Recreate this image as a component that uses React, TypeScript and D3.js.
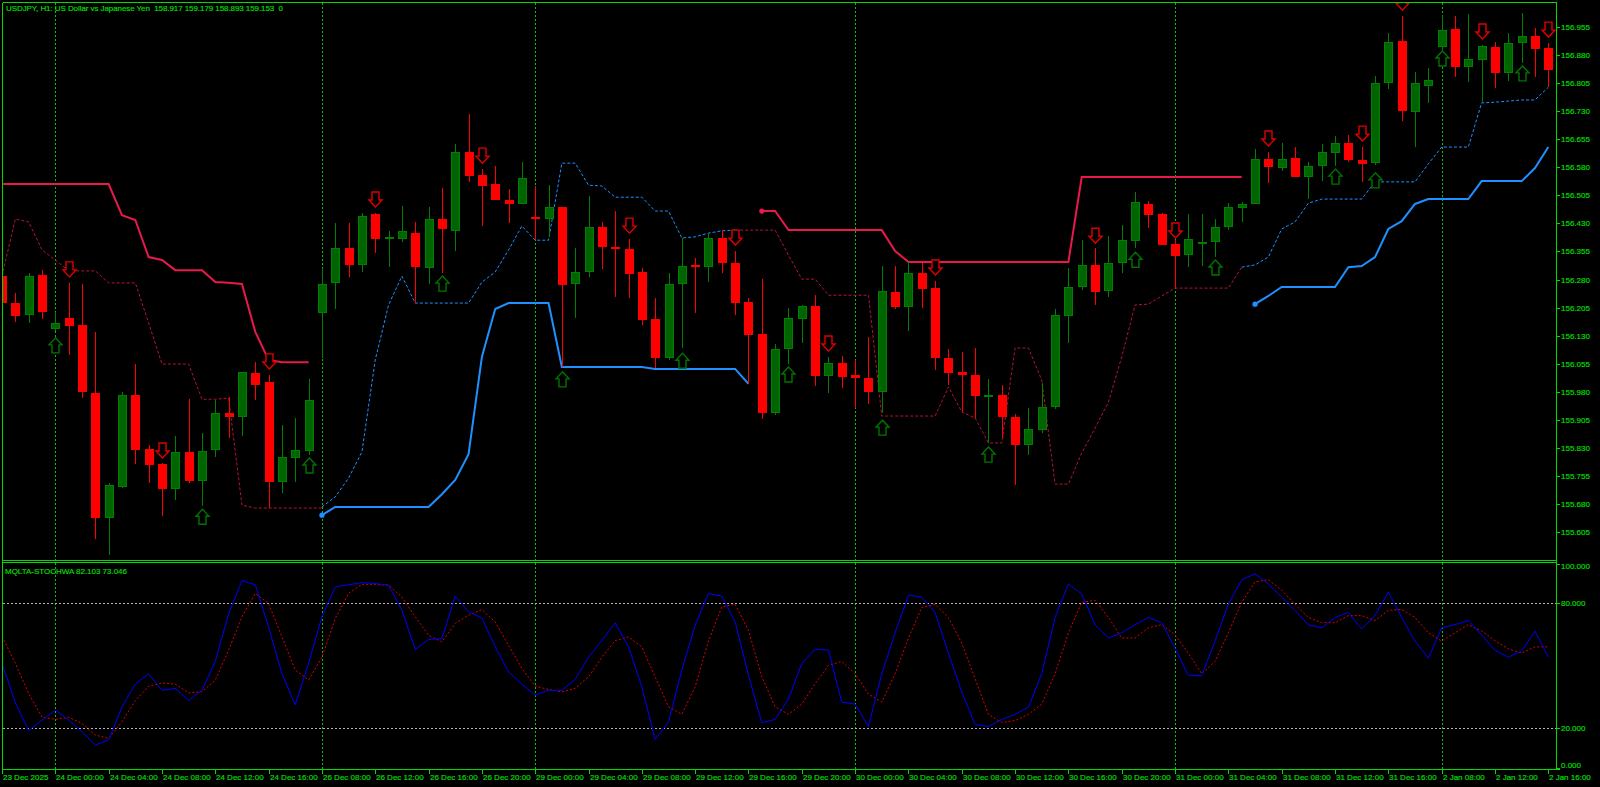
import React from 'react';
import * as d3 from 'd3';

// ---------- DATA ----------
const headerText = 'USDJPY, H1: US Dollar vs Japanese Yen  158.917 159.179 158.893 159.153  0';
const subLegend = 'MQLTA-STOCHWA 82.103 73.046';

const timeLabels: [number, string][] = [
  [0, '23 Dec 2025'], [4, '24 Dec 00:00'], [8, '24 Dec 04:00'], [12, '24 Dec 08:00'], [16, '24 Dec 12:00'],
  [20, '24 Dec 16:00'], [24, '26 Dec 08:00'], [28, '26 Dec 12:00'], [32, '26 Dec 16:00'], [36, '26 Dec 20:00'],
  [40, '29 Dec 00:00'], [44, '29 Dec 04:00'], [48, '29 Dec 08:00'], [52, '29 Dec 12:00'], [56, '29 Dec 16:00'],
  [60, '29 Dec 20:00'], [64, '30 Dec 00:00'], [68, '30 Dec 04:00'], [72, '30 Dec 08:00'], [76, '30 Dec 12:00'],
  [80, '30 Dec 16:00'], [84, '30 Dec 20:00'], [88, '31 Dec 00:00'], [92, '31 Dec 04:00'], [96, '31 Dec 08:00'],
  [100, '31 Dec 12:00'], [104, '31 Dec 16:00'], [108, '2 Jan 08:00'], [112, '2 Jan 12:00'], [116, '2 Jan 16:00'],
];
const daySeparators = [4, 24, 40, 64, 88, 108];
const priceTicks = [155.605, 155.68, 155.755, 155.83, 155.905, 155.98, 156.055, 156.13, 156.205, 156.28,
  156.355, 156.43, 156.505, 156.58, 156.655, 156.73, 156.805, 156.88, 156.955];
const stochTicks = [100, 80, 20, 0];
const stochLevels = [80, 20];

const opens = [
  156.289, 156.217, 156.185, 156.292, 156.148, 156.177, 156.158, 155.977, 155.642, 155.725,
  155.971, 155.827, 155.787, 155.720, 155.819, 155.741, 155.824, 155.923, 155.912, 156.030,
  156.006, 155.739, 155.803, 155.821, 156.190, 156.271, 156.364, 156.319, 156.455, 156.388,
  156.388, 156.404, 156.311, 156.442, 156.410, 156.621, 156.559, 156.535, 156.492, 156.482,
  156.447, 156.442, 156.474, 156.268, 156.300, 156.420, 156.367, 156.361, 156.300, 156.174,
  156.070, 156.268, 156.319, 156.313, 156.391, 156.324, 156.220, 156.134, 155.923, 156.094,
  156.174, 156.209, 156.022, 156.057, 156.025, 156.017, 155.979, 156.246, 156.206, 156.297,
  156.257, 156.070, 156.033, 156.025, 155.966, 155.971, 155.912, 155.838, 155.878, 155.939,
  156.182, 156.260, 156.319, 156.249, 156.324, 156.383, 156.482, 156.455, 156.375, 156.345,
  156.375, 156.380, 156.420, 156.471, 156.482, 156.602, 156.578, 156.605, 156.554, 156.583,
  156.618, 156.645, 156.599, 156.591, 156.805, 156.917, 156.728, 156.797, 156.901, 156.949,
  156.848, 156.867, 156.901, 156.832, 156.912, 156.931, 156.899,
];
const highs = [
  156.311, 156.244, 156.297, 156.305, 156.193, 156.271, 156.268, 156.140, 155.736, 155.979,
  156.054, 155.838, 155.789, 155.862, 155.960, 155.870, 155.958, 155.966, 156.033, 156.059,
  156.025, 155.891, 155.910, 156.014, 156.311, 156.431, 156.431, 156.458, 156.458, 156.410,
  156.476, 156.434, 156.474, 156.524, 156.642, 156.722, 156.575, 156.583, 156.522, 156.594,
  156.530, 156.532, 156.474, 156.364, 156.503, 156.434, 156.463, 156.388, 156.311, 156.230,
  156.297, 156.391, 156.337, 156.404, 156.412, 156.356, 156.230, 156.281, 156.107, 156.204,
  156.212, 156.238, 156.073, 156.075, 156.065, 156.126, 156.316, 156.316, 156.327, 156.324,
  156.276, 156.094, 156.086, 156.097, 156.014, 155.998, 155.920, 155.936, 156.003, 156.201,
  156.311, 156.385, 156.364, 156.396, 156.426, 156.514, 156.490, 156.458, 156.385, 156.455,
  156.455, 156.442, 156.484, 156.487, 156.629, 156.621, 156.645, 156.634, 156.594, 156.642,
  156.663, 156.666, 156.634, 156.824, 156.939, 156.984, 156.835, 156.845, 156.987, 156.984,
  156.990, 156.907, 156.915, 156.939, 156.992, 156.952, 156.912,
];
const lows = [
  156.193, 156.166, 156.164, 156.174, 156.142, 156.078, 155.963, 155.586, 155.543, 155.723,
  155.787, 155.736, 155.648, 155.690, 155.736, 155.674, 155.805, 155.856, 155.862, 155.958,
  155.669, 155.709, 155.739, 155.811, 156.070, 156.201, 156.287, 156.300, 156.351, 156.313,
  156.380, 156.217, 156.268, 156.297, 156.356, 156.541, 156.423, 156.492, 156.431, 156.482,
  156.385, 156.394, 156.046, 156.177, 156.287, 156.308, 156.233, 156.230, 156.158, 156.043,
  156.065, 156.097, 156.190, 156.273, 156.297, 156.185, 156.001, 155.907, 155.918, 156.054,
  156.110, 155.995, 155.977, 155.990, 155.936, 155.947, 155.923, 156.201, 156.142, 156.204,
  156.038, 155.998, 155.926, 155.910, 155.843, 155.856, 155.731, 155.811, 155.870, 155.934,
  156.110, 156.252, 156.212, 156.233, 156.297, 156.364, 156.418, 156.372, 156.257, 156.313,
  156.316, 156.340, 156.412, 156.434, 156.482, 156.538, 156.570, 156.554, 156.495, 156.543,
  156.583, 156.594, 156.541, 156.586, 156.789, 156.704, 156.634, 156.752, 156.880, 156.821,
  156.808, 156.754, 156.792, 156.810, 156.859, 156.821, 156.794,
];
const closes = [
  156.217, 156.182, 156.289, 156.193, 156.164, 156.156, 155.979, 155.642, 155.731, 155.971,
  155.824, 155.784, 155.720, 155.819, 155.741, 155.821, 155.923, 155.912, 156.033, 155.998,
  155.739, 155.805, 155.824, 155.958, 156.268, 156.364, 156.319, 156.450, 156.388, 156.394,
  156.410, 156.313, 156.442, 156.415, 156.621, 156.557, 156.530, 156.492, 156.482, 156.551,
  156.442, 156.474, 156.265, 156.300, 156.420, 156.367, 156.361, 156.295, 156.172, 156.070,
  156.268, 156.316, 156.316, 156.391, 156.324, 156.217, 156.132, 155.923, 156.094, 156.177,
  156.209, 156.022, 156.057, 156.019, 156.017, 155.979, 156.249, 156.206, 156.297, 156.254,
  156.070, 156.030, 156.025, 155.968, 155.971, 155.912, 155.838, 155.880, 155.939, 156.185,
  156.260, 156.319, 156.246, 156.324, 156.385, 156.487, 156.452, 156.372, 156.343, 156.388,
  156.380, 156.420, 156.474, 156.482, 156.602, 156.581, 156.602, 156.554, 156.583, 156.621,
  156.645, 156.599, 156.589, 156.805, 156.915, 156.730, 156.805, 156.813, 156.947, 156.848,
  156.869, 156.904, 156.832, 156.912, 156.931, 156.896, 156.840,
];

// signal arrows: [bar index, anchor price]
const buySignals: [number, number][] = [
  [4, 156.124], [15, 155.666], [23, 155.803], [33, 156.289], [42, 156.033], [51, 156.083], [59, 156.046],
  [66, 155.904], [74, 155.832], [85, 156.353], [91, 156.332], [100, 156.575], [103, 156.565], [108, 156.891], [114, 156.851],
];
const sellSignals: [number, number][] = [
  [5, 156.287], [12, 155.803], [20, 156.041], [28, 156.474], [36, 156.591], [47, 156.404], [55, 156.372],
  [62, 156.089], [70, 156.292], [82, 156.377], [88, 156.391], [95, 156.637], [102, 156.650], [105, 157.000],
  [111, 156.923], [116, 156.928],
];

// trailing lines (start index + values)
const redSolid1Start = 0;
const redSolid1 = [156.535, 156.535, 156.535, 156.535, 156.535, 156.535, 156.535, 156.535, 156.535, 156.452,
  156.439, 156.340, 156.332, 156.305, 156.305, 156.305, 156.273, 156.271, 156.268, 156.140, 156.065, 156.059, 156.059, 156.059];
const redSolid2Start = 57;
const redSolid2 = [156.463, 156.463, 156.412, 156.412, 156.412, 156.412, 156.412, 156.412, 156.412, 156.412,
  156.356, 156.327, 156.327, 156.327, 156.327, 156.327, 156.327, 156.327, 156.327, 156.327, 156.327, 156.327, 156.327, 156.327,
  156.554, 156.554, 156.554, 156.554, 156.554, 156.554, 156.554, 156.554, 156.554, 156.554, 156.554, 156.554, 156.554];
const blueSolid1Start = 24;
const blueSolid1 = [155.650, 155.672, 155.672, 155.672, 155.672, 155.672, 155.672, 155.672, 155.672, 155.706,
  155.744, 155.813, 156.073, 156.201, 156.217, 156.217, 156.217, 156.217, 156.046, 156.046, 156.046, 156.046, 156.046, 156.046,
  156.046, 156.041, 156.041, 156.041, 156.041, 156.041, 156.041, 156.041, 156.001];
const blueSolid2Start = 94;
const blueSolid2 = [156.214, 156.236, 156.260, 156.260, 156.260, 156.260, 156.260, 156.313, 156.316, 156.340,
  156.415, 156.436, 156.482, 156.495, 156.495, 156.495, 156.495, 156.543, 156.543, 156.543, 156.543, 156.578, 156.634];
const redDot1Start = 0;
const redDot1 = [156.289, 156.442, 156.434, 156.359, 156.332, 156.303, 156.303, 156.303, 156.271, 156.271,
  156.271, 156.164, 156.054, 156.054, 156.054, 155.960, 155.960, 155.963, 155.677, 155.669, 155.669, 155.669, 155.669, 155.669, 155.669];
const blueDot1Start = 24;
const blueDot1 = [155.672, 155.699, 155.749, 155.819, 156.065, 156.212, 156.289, 156.217, 156.217, 156.217,
  156.217, 156.217, 156.273, 156.300, 156.359, 156.423, 156.385, 156.385, 156.591, 156.591, 156.532, 156.530, 156.500, 156.500,
  156.500, 156.463, 156.463, 156.391, 156.394, 156.404, 156.410, 156.412];
const redDot2Start = 55;
const redDot2 = [156.412, 156.412, 156.412, 156.412, 156.345, 156.281, 156.281, 156.238, 156.238, 156.238,
  156.238, 155.915, 155.915, 155.915, 155.915, 155.915, 155.993, 155.926, 155.910, 155.843, 155.843, 156.097, 156.097, 156.011,
  155.733, 155.733, 155.816, 155.883, 155.952, 156.073, 156.212, 156.214, 156.236, 156.257, 156.257, 156.257, 156.257, 156.257, 156.313];
const blueDot2Start = 93;
const blueDot2 = [156.313, 156.319, 156.340, 156.415, 156.434, 156.484, 156.495, 156.495, 156.495, 156.495,
  156.541, 156.541, 156.541, 156.541, 156.589, 156.634, 156.634, 156.634, 156.752, 156.754, 156.757, 156.760, 156.760, 156.794];

// stochastic
const stochMain = [
  51, 32, 18.5, 23.6, 28.5, 23.6, 18, 11.6, 14, 30, 41, 46, 38, 39, 33, 38, 52, 75, 91, 89,
  68.6, 46, 31, 51, 73.5, 88, 89, 90, 89.6, 88.8, 76.7, 57.7, 62.6, 63, 83.5, 75.9, 73, 59, 47, 41,
  35.7, 38, 38, 43.3, 54, 62, 70.6, 59, 39.7, 14.3, 22.8, 47.8, 69.5, 84.8, 83.5, 71, 45.3, 22.3, 24, 33.8,
  51, 57.9, 57.4, 32.3, 31.4, 20.5, 46, 65.8, 84, 83, 75.6, 56, 37.2, 21.5, 20.5, 23.9, 26.4, 29.9, 46, 73.2,
  89.4, 84.5, 69.7, 63.3, 65.8, 69.7, 73.2, 70.7, 58.4, 45.1, 45.1, 61.8, 79.6, 91.4, 94.3, 89.4, 83, 76.6, 69.7, 68.2,
  73.2, 75.6, 67.7, 74.1, 85.5, 73.2, 61.8, 53.5, 68.2, 69.7, 71.7, 64.8, 57.4, 54, 57, 66.6, 54,
];
const stochSignal = [
  64, 51, 36.5, 25, 24, 25, 22, 16.4, 14.8, 22.8, 33, 40, 41.6, 41, 36.8, 37.3, 43, 57.4, 73.5, 84.8,
  80, 63.8, 47.8, 43, 54, 72.7, 84.8, 89.2, 89.2, 88.8, 83, 73.5, 64.6, 61.4, 70.3, 74.3, 77, 71, 59.8, 48.6,
  40, 38.4, 37.3, 39, 44.5, 54, 62, 63.8, 59, 44.5, 30, 26.5, 39.7, 62, 78.3, 79.6, 67, 44.5, 30, 26.4,
  31.4, 41.2, 50, 52, 46, 36.2, 32.3, 46, 63.3, 78.1, 79.5, 73.2, 60.8, 43.6, 26.4, 22.5, 23.4, 26.4, 31.4, 46,
  65.8, 80.5, 81.5, 73.2, 63.3, 63.3, 68.2, 69.7, 64.8, 55.9, 46, 52, 65.8, 80.5, 90.4, 91.4, 86.4, 79.5, 73.2, 70.7,
  70.7, 74.1, 74.1, 71.7, 76.6, 77.1, 73.2, 65.8, 61.8, 65.8, 69.7, 66.7, 62, 58, 56, 59, 59,
];

// ---------- STYLE ----------
const FG = '#00dc00';
const GRID = '#00c800';
const BULL_FILL = '#006400';
const BULL_EDGE = '#008000';
const BEAR = '#ff0000';
const RED_LINE = '#e8194b';
const RED_DOT = '#b41432';
const BLUE_LINE = '#1e90ff';
const FONT = "'Liberation Sans', Arial, sans-serif";

export default function App() {
  const n = opens.length;
  const x = d3.scaleLinear().domain([0, n - 1]).range([2, 1548.3]);
  const y = d3.scaleLinear().domain([155.605, 156.955]).range([532, 27]);
  const ys = d3.scaleLinear().domain([0, 100]).range([769, 562]);
  const fmt = d3.format('.3f');

  const segLine = (start: number, vals: number[]) =>
    d3.line<number>().x((_, k) => x(start + k)).y((d) => y(d))(vals) || '';
  const stochLine = (vals: number[]) =>
    d3.line<number>().x((_, k) => x(k)).y((d) => ys(d))(vals) || '';

  const downArrow = (cx: number, yb: number) =>
    `M${cx},${yb} L${cx - 6.5},${yb - 7} L${cx - 3.5},${yb - 7} L${cx - 3.5},${yb - 15} L${cx + 3.5},${yb - 15} L${cx + 3.5},${yb - 7} L${cx + 6.5},${yb - 7} Z`;
  const upArrow = (cx: number, yt: number) =>
    `M${cx},${yt} L${cx - 6.5},${yt + 7} L${cx - 3.5},${yt + 7} L${cx - 3.5},${yt + 15} L${cx + 3.5},${yt + 15} L${cx + 3.5},${yt + 7} L${cx + 6.5},${yt + 7} Z`;

  const colX = (i: number) => Math.round(x(i));
  const txt = { fontSize: 8, fill: FG, stroke: FG, strokeWidth: 0.2 } as const;

  return (
    <svg width={1600} height={787} style={{ position: 'fixed', left: 0, top: 0, background: '#000', display: 'block' }}
      fontFamily={FONT}>
      <defs>
        <clipPath id="mainClip"><rect x={3} y={3} width={1553} height={557} /></clipPath>
        <clipPath id="subClip"><rect x={3} y={563} width={1553} height={206} /></clipPath>
      </defs>
      <rect x={0} y={0} width={1600} height={787} fill="#000" />

      {/* vertical day separators */}
      {daySeparators.map((i) => (
        <line key={'g' + i} x1={colX(i) + 0.5} x2={colX(i) + 0.5} y1={3} y2={769} stroke={GRID}
          strokeDasharray="2,2" shapeRendering="crispEdges" />
      ))}

      {/* stochastic levels */}
      {stochLevels.map((v) => (
        <line key={'lv' + v} x1={3} x2={1556} y1={Math.round(ys(v)) + 0.5} y2={Math.round(ys(v)) + 0.5}
          stroke="#b4b4b4" strokeDasharray="2,2" shapeRendering="crispEdges" />
      ))}

      <g clipPath="url(#mainClip)">
        {/* trailing lines */}
        <path d={segLine(redDot1Start, redDot1)} fill="none" stroke={RED_DOT} strokeWidth={1} strokeDasharray="3,2" />
        <path d={segLine(redDot2Start, redDot2)} fill="none" stroke={RED_DOT} strokeWidth={1} strokeDasharray="3,2" />
        <path d={segLine(blueDot1Start, blueDot1)} fill="none" stroke={BLUE_LINE} strokeWidth={1} strokeDasharray="3,2" />
        <path d={segLine(blueDot2Start, blueDot2)} fill="none" stroke={BLUE_LINE} strokeWidth={1} strokeDasharray="3,2" />
        <path d={segLine(redSolid1Start, redSolid1)} fill="none" stroke={RED_LINE} strokeWidth={2} />
        <path d={segLine(redSolid2Start, redSolid2)} fill="none" stroke={RED_LINE} strokeWidth={2} />
        <path d={segLine(blueSolid1Start, blueSolid1)} fill="none" stroke={BLUE_LINE} strokeWidth={2} />
        <path d={segLine(blueSolid2Start, blueSolid2)} fill="none" stroke={BLUE_LINE} strokeWidth={2} />
        <circle cx={x(redSolid2Start)} cy={y(redSolid2[0])} r={2.6} fill={RED_LINE} />
        <circle cx={x(blueSolid1Start)} cy={y(blueSolid1[0])} r={2.6} fill={BLUE_LINE} />
        <circle cx={x(blueSolid2Start)} cy={y(blueSolid2[0])} r={2.6} fill={BLUE_LINE} />

        {/* candles */}
        {opens.map((o, i) => {
          const c = closes[i];
          const up = c >= o;
          const cx = colX(i);
          const top = Math.round(y(Math.max(o, c)));
          const bot = Math.round(y(Math.min(o, c)));
          const h = Math.max(1, bot - top);
          const col = up ? BULL_EDGE : BEAR;
          return (
            <g key={'c' + i} shapeRendering="crispEdges">
              <line x1={cx + 0.5} x2={cx + 0.5} y1={Math.round(y(highs[i]))} y2={Math.round(y(lows[i]))} stroke={col} />
              {up && h > 2 ? (
                <rect x={cx - 3.5} y={top + 0.5} width={8} height={h - 1} fill={BULL_FILL} stroke={BULL_EDGE} />
              ) : (
                <rect x={cx - 4} y={top} width={9} height={Math.max(2, h)} fill={up ? BULL_EDGE : BEAR} />
              )}
            </g>
          );
        })}

        {/* signal arrows */}
        {sellSignals.map(([i, p]) => (
          <path key={'s' + i} d={downArrow(colX(i) + 0.5, y(p))} fill="#000" stroke="#e00000" strokeWidth={1.4} />
        ))}
        {buySignals.map(([i, p]) => (
          <path key={'b' + i} d={upArrow(colX(i) + 0.5, y(p))} fill="#000" stroke="#007400" strokeWidth={1.4} />
        ))}
      </g>

      {/* stochastic */}
      <g clipPath="url(#subClip)">
        <path d={stochLine(stochSignal)} fill="none" stroke="#dd0000" strokeWidth={1} strokeDasharray="2,2" />
        <path d={stochLine(stochMain)} fill="none" stroke="#0000ff" strokeWidth={1} />
      </g>

      {/* frames */}
      <g fill="none" stroke={FG} shapeRendering="crispEdges">
        <line x1={2.5} x2={1556.5} y1={2.5} y2={2.5} />
        <line x1={2.5} x2={2.5} y1={2.5} y2={769.5} />
        <line x1={1556.5} x2={1556.5} y1={2.5} y2={769.5} />
        <line x1={2.5} x2={1556.5} y1={560.5} y2={560.5} />
        <line x1={2.5} x2={1556.5} y1={562.5} y2={562.5} />
        <line x1={2.5} x2={1560} y1={769.5} y2={769.5} />
      </g>

      {/* price axis */}
      {priceTicks.map((p) => (
        <g key={'p' + p}>
          <line x1={1556} x2={1560} y1={Math.round(y(p)) + 0.5} y2={Math.round(y(p)) + 0.5} stroke={FG} shapeRendering="crispEdges" />
          <text x={1561} y={y(p) + 3} {...txt}>{fmt(p)}</text>
        </g>
      ))}
      {stochTicks.map((v) => {
        const ty = v === 100 ? ys(v) + 1.5 : v === 0 ? ys(v) - 1 : ys(v);
        const ly = v === 100 ? ys(v) + 4 : v === 0 ? ys(v) - 4 : ys(v);
        return (
          <g key={'st' + v}>
            <line x1={1556} x2={1560} y1={Math.round(ty) + 0.5} y2={Math.round(ty) + 0.5} stroke={FG} shapeRendering="crispEdges" />
            <text x={1561} y={ly + 3} {...txt}>{fmt(v)}</text>
          </g>
        );
      })}

      {/* time axis */}
      {timeLabels.map(([i, s]) => (
        <g key={'t' + i}>
          <line x1={colX(i) + 0.5} x2={colX(i) + 0.5} y1={769} y2={774} stroke={FG} shapeRendering="crispEdges" />
          <text x={colX(i) + 1} y={780} {...txt}>{s}</text>
        </g>
      ))}

      {/* labels */}
      <text x={6} y={10.5} {...txt} style={{ whiteSpace: 'pre' }} textLength={277} lengthAdjust="spacing">{headerText}</text>
      <text x={5} y={574} {...txt} textLength={122} lengthAdjust="spacing">{subLegend}</text>
    </svg>
  );
}
